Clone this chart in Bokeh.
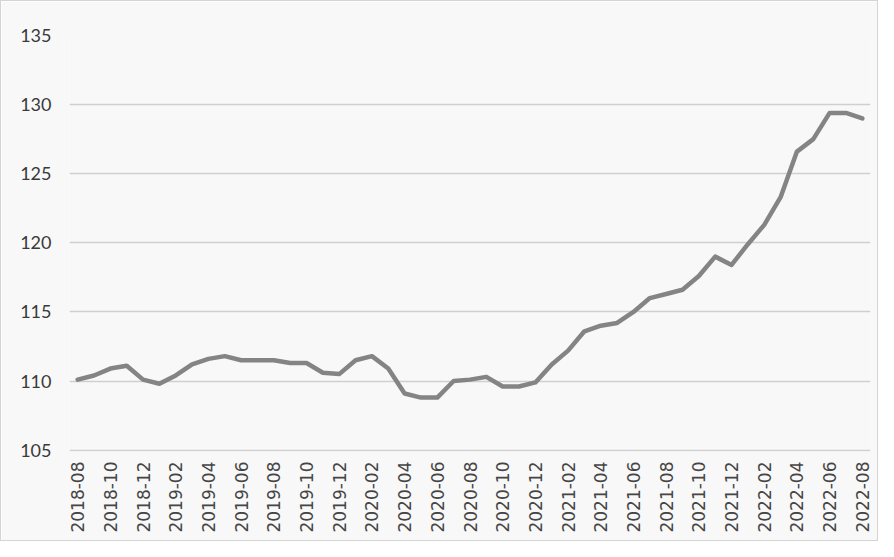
import math
from bokeh.plotting import figure
from bokeh.models import FixedTicker, ColumnDataSource
from bokeh.embed import file_html
from bokeh.resources import INLINE

months = [
    "2018-08", "2018-09", "2018-10", "2018-11", "2018-12",
    "2019-01", "2019-02", "2019-03", "2019-04", "2019-05", "2019-06",
    "2019-07", "2019-08", "2019-09", "2019-10", "2019-11", "2019-12",
    "2020-01", "2020-02", "2020-03", "2020-04", "2020-05", "2020-06",
    "2020-07", "2020-08", "2020-09", "2020-10", "2020-11", "2020-12",
    "2021-01", "2021-02", "2021-03", "2021-04", "2021-05", "2021-06",
    "2021-07", "2021-08", "2021-09", "2021-10", "2021-11", "2021-12",
    "2022-01", "2022-02", "2022-03", "2022-04", "2022-05", "2022-06",
    "2022-07", "2022-08",
]

values = [
    110.1, 110.4, 110.9, 111.1, 110.1,
    109.8, 110.4, 111.2, 111.6, 111.8, 111.5,
    111.5, 111.5, 111.3, 111.3, 110.6, 110.5,
    111.5, 111.8, 110.9, 109.1, 108.8, 108.8,
    110.0, 110.1, 110.3, 109.6, 109.6, 109.9,
    111.2, 112.2, 113.6, 114.0, 114.2, 115.0,
    116.0, 116.3, 116.6, 117.6, 119.0, 118.4,
    119.9, 121.3, 123.3, 126.6, 127.5, 129.4,
    129.4, 129.0,
]

y_ticks = [105, 110, 115, 120, 125, 130, 135]

idx = list(range(len(months)))
src = ColumnDataSource(data=dict(x=idx, y=values, m=months))

p = figure(
    width=878, height=541,
    x_range=(-0.5, len(months) - 0.5),
    y_range=(104.9, 135),
    output_backend="svg", toolbar_location=None,
    min_border_left=68, min_border_right=9,
    min_border_top=34, min_border_bottom=91,
)
p.background_fill_color = "#f8f8f8"
p.border_fill_color = "#f8f8f8"
p.outline_line_color = None
p.styles = {"border": "1px solid #d4d4d4"}

p.line("x", "y", source=src, line_color="#848484", line_width=4.5,
       line_join="round", line_cap="round")

# axes
label_ticks = idx[::2]
p.xaxis.ticker = FixedTicker(ticks=label_ticks)
p.xaxis.major_label_overrides = {i: months[i] for i in label_ticks}
p.xaxis.major_label_orientation = math.pi / 2
p.xaxis.major_label_text_font = "DejaVu Sans"
p.xaxis.major_label_text_font_size = "17px"
p.xaxis.major_label_text_color = "#454545"
p.xaxis.major_label_standoff = 10
p.xaxis.axis_line_color = None
p.xaxis.major_tick_line_color = None
p.xaxis.major_tick_out = 0
p.xaxis.minor_tick_line_color = None

p.yaxis.ticker = FixedTicker(ticks=y_ticks)
p.yaxis.major_label_text_font = "Lato"
p.yaxis.major_label_text_font_size = "18px"
p.yaxis.major_label_text_color = "#3a3a3a"
p.yaxis.major_label_standoff = 18
p.yaxis.axis_line_color = None
p.yaxis.major_tick_line_color = None
p.yaxis.major_tick_out = 0
p.yaxis.minor_tick_line_color = None

p.xgrid.grid_line_color = None
p.ygrid.ticker = FixedTicker(ticks=y_ticks)
p.ygrid.grid_line_color = "#cfcfcf"
p.ygrid.grid_line_width = 1.5

open("out.html", "w").write(file_html(p, INLINE))
